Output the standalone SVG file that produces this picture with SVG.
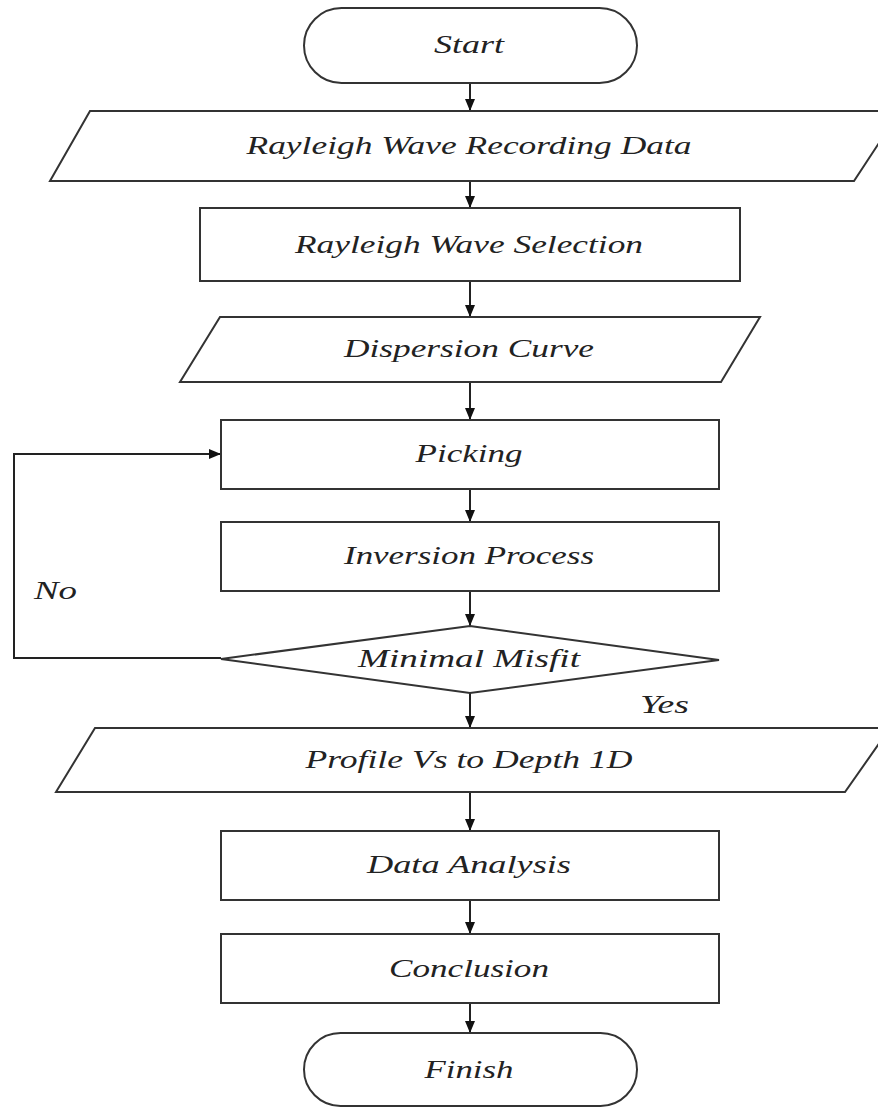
<svg xmlns="http://www.w3.org/2000/svg" width="878" height="1108" viewBox="0 0 878 1108">
  <style>
    .shape { fill: #ffffff; stroke: #333333; stroke-width: 2; }
    .conn { fill: none; stroke: #222222; stroke-width: 2; }
    .label { font-family: "Liberation Serif", "DejaVu Serif", serif; font-style: italic; font-size: 26px; fill: #222222; text-anchor: middle; }
    .side { font-family: "Liberation Serif", "DejaVu Serif", serif; font-style: italic; font-size: 26px; fill: #222222; }
  </style>
  <defs>
    <marker id="arrow" viewBox="0 0 12 10" refX="12" refY="5" markerWidth="12" markerHeight="10" markerUnits="userSpaceOnUse" orient="auto">
      <path d="M0,0 L12,5 L0,10 Z" fill="#111111"/>
    </marker>
  </defs>
  <rect width="878" height="1108" fill="#ffffff"/>

  <!-- connectors -->
  <g id="connectors">
    <line class="conn" x1="470" y1="83" x2="470" y2="111" marker-end="url(#arrow)"/>
    <line class="conn" x1="470" y1="181" x2="470" y2="208" marker-end="url(#arrow)"/>
    <line class="conn" x1="470" y1="281" x2="470" y2="317" marker-end="url(#arrow)"/>
    <line class="conn" x1="470" y1="382" x2="470" y2="420" marker-end="url(#arrow)"/>
    <line class="conn" x1="470" y1="489" x2="470" y2="522" marker-end="url(#arrow)"/>
    <line class="conn" x1="470" y1="591" x2="470" y2="626" marker-end="url(#arrow)"/>
    <line class="conn" x1="470" y1="693" x2="470" y2="728" marker-end="url(#arrow)"/>
    <line class="conn" x1="470" y1="792" x2="470" y2="831" marker-end="url(#arrow)"/>
    <line class="conn" x1="470" y1="900" x2="470" y2="934" marker-end="url(#arrow)"/>
    <line class="conn" x1="470" y1="1003" x2="470" y2="1033" marker-end="url(#arrow)"/>
    <!-- "No" loop back to Picking -->
    <polyline class="conn" points="221,658 14,658 14,454 221,454" marker-end="url(#arrow)"/>
    <text class="side" x="34" y="599" textLength="43" lengthAdjust="spacingAndGlyphs">No</text>
    <text class="side" x="640" y="713" textLength="49" lengthAdjust="spacingAndGlyphs">Yes</text>
  </g>

  <g id="start">
    <rect class="shape" x="304" y="8" width="333" height="75" rx="37.5" ry="37.5"/>
    <text class="label" x="469" y="53" textLength="70" lengthAdjust="spacingAndGlyphs">Start</text>
  </g>

  <g id="recording-data">
    <polygon class="shape" points="90,111 900,111 854,181 50,181"/>
    <text class="label" x="469" y="154" textLength="445" lengthAdjust="spacingAndGlyphs">Rayleigh Wave Recording Data</text>
  </g>

  <g id="wave-selection">
    <rect class="shape" x="200" y="208" width="540" height="73"/>
    <text class="label" x="469" y="253" textLength="348" lengthAdjust="spacingAndGlyphs">Rayleigh Wave Selection</text>
  </g>

  <g id="dispersion-curve">
    <polygon class="shape" points="220,317 760,317 721,382 180,382"/>
    <text class="label" x="469" y="357" textLength="250" lengthAdjust="spacingAndGlyphs">Dispersion Curve</text>
  </g>

  <g id="picking">
    <rect class="shape" x="221" y="420" width="498" height="69"/>
    <text class="label" x="469" y="462" textLength="107" lengthAdjust="spacingAndGlyphs">Picking</text>
  </g>

  <g id="inversion">
    <rect class="shape" x="221" y="522" width="498" height="69"/>
    <text class="label" x="469" y="564" textLength="250" lengthAdjust="spacingAndGlyphs">Inversion Process</text>
  </g>

  <g id="misfit">
    <polygon class="shape" points="470,626 719,660 470,693 221,659"/>
    <text class="label" x="469" y="667" textLength="222" lengthAdjust="spacingAndGlyphs">Minimal Misfit</text>
  </g>

  <g id="profile">
    <polygon class="shape" points="95,728 890,728 845,792 56,792"/>
    <text class="label" x="469" y="768" textLength="327" lengthAdjust="spacingAndGlyphs">Profile Vs to Depth 1D</text>
  </g>

  <g id="data-analysis">
    <rect class="shape" x="221" y="831" width="498" height="69"/>
    <text class="label" x="469" y="873" textLength="204" lengthAdjust="spacingAndGlyphs">Data Analysis</text>
  </g>

  <g id="conclusion">
    <rect class="shape" x="221" y="934" width="498" height="69"/>
    <text class="label" x="469" y="977" textLength="160" lengthAdjust="spacingAndGlyphs">Conclusion</text>
  </g>

  <g id="finish">
    <rect class="shape" x="304" y="1033" width="333" height="73" rx="36.5" ry="36.5"/>
    <text class="label" x="469" y="1078" textLength="89" lengthAdjust="spacingAndGlyphs">Finish</text>
  </g>
</svg>
